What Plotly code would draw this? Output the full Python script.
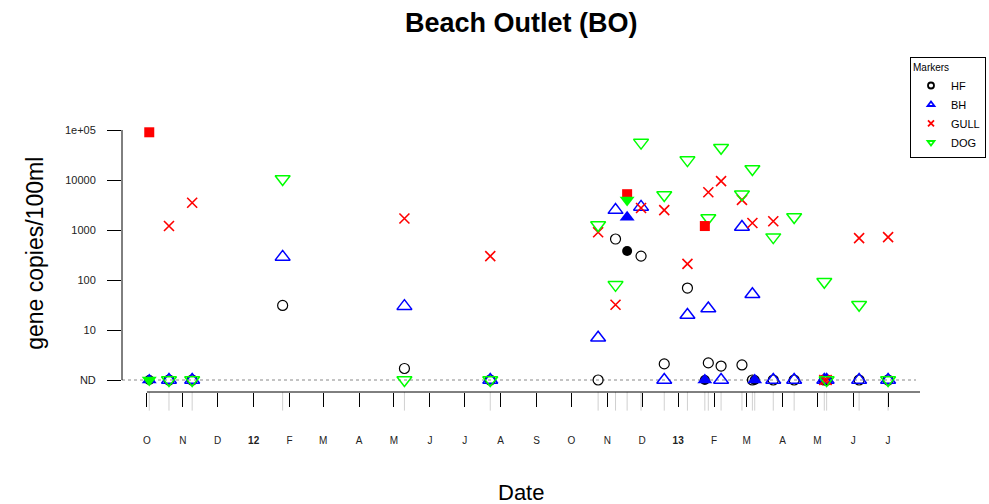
import plotly.graph_objects as go

# Non-detects are plotted on the "ND" baseline (1 copy/100ml)
ND = 1.0

# Routine samples (open symbols)
sample_dates = ["2011-10-20", "2011-11-09", "2012-01-26", "2012-05-10", "2012-07-23",
                "2012-10-24", "2012-11-08", "2012-11-30", "2012-12-20", "2013-01-09",
                "2013-01-27", "2013-02-07", "2013-02-25", "2013-03-06", "2013-03-24",
                "2013-04-11", "2013-05-07", "2013-05-09", "2013-06-06", "2013-07-01"]
hf   = [ND, ND, 31, 1.7, ND, ND, 660, 300, 2.1, 69, 2.2, 1.9, 2.0, ND, ND, ND, ND, ND, ND, ND]
bh   = [ND, ND, 290, 30, ND, 7, 2500, 2900, ND, 20, 27, ND, 1150, 52, ND, ND, ND, ND, ND, ND]
gull = [1200, 3500, None, 1700, 300, 900, 32, 2750, 2500, 210, 5700, 9500, 4000, 1380,
        1500, None, ND, ND, 690, 720]
dog  = [ND, ND, 10500, ND, ND, 1260, 80, 56000, 5000, 25000, 1740, 44000, 5200, 16600,
        720, 1820, 92, ND, 32, ND]

# Event samples (filled symbols)
event_dates = ["2011-10-03", "2012-11-18", "2013-01-24", "2013-03-08"]
hf_event   = [ND, 380, ND, ND]
bh_event   = [ND, 1800, ND, ND]
gull_event = [90000, 5200, 1200, None]
dog_event  = [ND, 4000, None, None]

# Axis ticks
month_ticks = ["2011-10-01", "2011-11-01", "2011-12-01", "2012-01-01", "2012-02-01",
               "2012-03-01", "2012-04-01", "2012-05-01", "2012-06-01", "2012-07-01",
               "2012-08-01", "2012-09-01", "2012-10-01", "2012-11-01", "2012-12-01",
               "2013-01-01", "2013-02-01", "2013-03-01", "2013-04-01", "2013-05-01",
               "2013-06-01", "2013-07-01"]
month_labels = ["O", "N", "D", "<b>12</b>", "F", "M", "A", "M", "J", "J", "A", "S",
                "O", "N", "D", "<b>13</b>", "F", "M", "A", "M", "J", "J"]
y_ticks = [1, 10, 100, 1000, 10000, 100000]
y_labels = ["ND", "10", "100", "1000", "10000", "1e+05"]

X_RANGE = ["2011-09-09 12:00", "2013-07-28 12:00"]
FONT = "Liberation Sans, Arial, sans-serif"

BLACK, BLUE, RED, GREEN = "#000000", "#0000FF", "#FF0000", "#00FF00"

fig = go.Figure()

# open symbols, routine samples
open_specs = [
    ("HF", hf, "circle-open", 10, BLACK, 1.2),
    ("BH", bh, "triangle-up-open", 13, BLUE, 1.5),
    ("GULL", gull, "x-thin-open", 10, RED, 1.6),
    ("DOG", dog, "triangle-down-open", 13, GREEN, 1.5),
]
for name, vals, sym, size, col, lw in open_specs:
    fig.add_trace(go.Scatter(
        x=sample_dates, y=vals, mode="markers", name=name, showlegend=False,
        cliponaxis=False,
        marker=dict(symbol=sym, size=size, color=col, line=dict(color=col, width=lw)),
    ))

# filled symbols, event samples
filled_specs = [
    ("HF", hf_event, "circle", 10, BLACK),
    ("BH", bh_event, "triangle-up", 13, BLUE),
    ("GULL", gull_event, "square", 10, RED),
    ("DOG", dog_event, "triangle-down", 13, GREEN),
]
for name, vals, sym, size, col in filled_specs:
    fig.add_trace(go.Scatter(
        x=event_dates, y=vals, mode="markers", name=name, showlegend=False,
        cliponaxis=False,
        marker=dict(symbol=sym, size=size, color=col, line=dict(width=0)),
    ))

# legend entries with small symbols
for name, _, sym, _, col, lw in open_specs:
    fig.add_trace(go.Scatter(
        x=[None], y=[None], mode="markers", name=name,
        marker=dict(symbol=sym, size=6, color=col, line=dict(color=col, width=1.8)),
    ))

shapes = []
# sampling-date rug under the time axis
for d in sample_dates + event_dates:
    shapes.append(dict(type="line", xref="x", yref="paper", x0=d, x1=d, y0=0, y1=-0.066,
                       line=dict(color="rgba(150,150,150,0.45)", width=1), layer="below"))
# detection-limit baseline
shapes.append(dict(type="line", xref="paper", yref="y", x0=0, x1=0.995, y0=ND, y1=ND,
                   line=dict(color="#888888", width=1, dash="dot"), layer="below"))
# axis lines spanning the labelled ticks
shapes.append(dict(type="line", xref="paper", yref="y", x0=0, x1=0, y0=y_ticks[0],
                   y1=y_ticks[-1], line=dict(color="black", width=1)))
shapes.append(dict(type="line", xref="x", yref="paper", x0=month_ticks[0], x1=X_RANGE[1],
                   y0=0, y1=0, line=dict(color="black", width=1)))

fig.update_layout(
    width=989, height=504,
    margin=dict(l=122, r=69, t=110, b=112, autoexpand=False),
    paper_bgcolor="white", plot_bgcolor="white",
    font=dict(family=FONT, color="black"),
    title=dict(text="<b>Beach Outlet (BO)</b>", x=0.527, xanchor="center",
               y=0.955, yanchor="middle", font=dict(size=27, family=FONT, color="black")),
    xaxis=dict(type="date", range=X_RANGE, tickvals=month_ticks, ticktext=month_labels,
               ticks="outside", ticklen=14, tickwidth=1, tickcolor="black",
               showline=False, showgrid=False, zeroline=False,
               ticklabelstandoff=25, tickfont=dict(size=10, family=FONT, color="#222222")),
    yaxis=dict(type="log", range=[-0.24, 5.4], tickvals=y_ticks, ticktext=y_labels,
               ticks="outside", ticklen=14, tickwidth=1, tickcolor="black",
               showline=False, showgrid=False, zeroline=False,
               ticklabelstandoff=9, tickfont=dict(size=11, family=FONT, color="#222222")),
    shapes=shapes,
    annotations=[
        dict(text="gene copies/100ml", xref="paper", yref="paper", x=-0.109, y=0.49,
             xanchor="center", yanchor="middle", textangle=-90, showarrow=False,
             font=dict(size=23, family=FONT, color="black")),
        dict(text="Date", xref="paper", yref="paper", x=0.5, y=-0.355,
             xanchor="center", yanchor="middle", showarrow=False,
             font=dict(size=22, family=FONT, color="black")),
    ],
    legend=dict(x=1.0827, xanchor="right", y=1.188, yanchor="top",
                bgcolor="white", bordercolor="black", borderwidth=1,
                itemwidth=30, tracegroupgap=0,
                title=dict(text="Markers", font=dict(size=10, family=FONT)),
                font=dict(size=11, family=FONT, color="black")),
)

fig.write_html("out.html")
